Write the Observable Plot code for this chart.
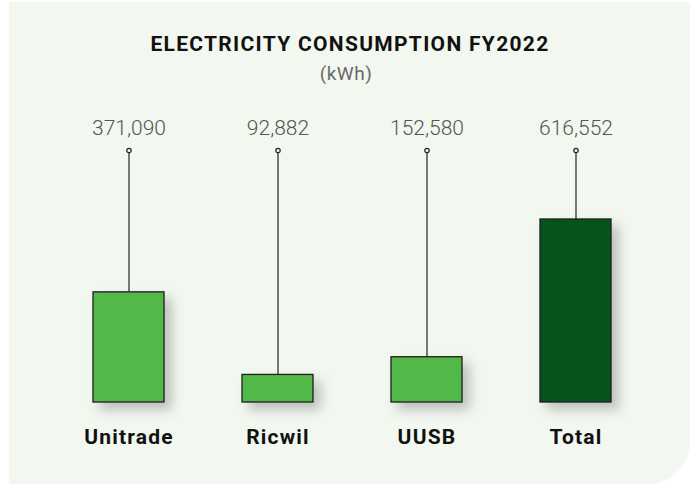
<!DOCTYPE html>
<html>
<head>
<meta charset="utf-8">
<script src="https://cdn.jsdelivr.net/npm/d3@7"></script>
<script src="https://cdn.jsdelivr.net/npm/@observablehq/plot@0.6"></script>
<style>
  html, body { margin: 0; padding: 0; background: #ffffff; }
  body { width: 692px; height: 484px; position: relative; overflow: hidden; font-family: Roboto, "Noto Sans", sans-serif; }
  #panel { position: absolute; left: 9px; top: 2px; width: 681px; height: 482px; background: #f2f7f0; border-bottom-right-radius: 42px; }
  #title { position: absolute; left: 0; width: 700px; top: 32px; text-align: center; font-weight: 700; font-size: 21px; color: #111; letter-spacing: 1.3px; }
  #subtitle { position: absolute; left: 0; width: 692px; top: 62px; text-align: center; font-weight: 400; font-size: 19px; color: #6a6a6a; letter-spacing: 0.5px; }
  #chart { position: absolute; left: 0; top: 95px; }
</style>
</head>
<body>
<div id="panel"></div>
<div id="title">ELECTRICITY CONSUMPTION FY2022</div>
<div id="subtitle">(kWh)</div>
<div id="chart"></div>
<script>
// ---- data ----
const categories = ["Unitrade", "Ricwil", "UUSB", "Total"];
const values = [371090, 92882, 152580, 616552];
const kinds = ["site", "site", "site", "total"];

// ---- config ----
const kindColors = ["#52b848", "#06531e"];
const leaderTop = 849000; // value-scale top where the leader lines end

const data = categories.map((c, i) => ({cat: c, value: values[i], kind: kinds[i]}));
const fmt = d3.format(",");

const chart = Plot.plot({
  width: 692,
  height: 389,
  marginTop: 55,
  marginBottom: 82,
  marginLeft: 48,
  marginRight: 36,
  style: {background: "transparent", fontFamily: "Roboto, 'Noto Sans', sans-serif", overflow: "visible"},
  x: {domain: categories, paddingInner: 0.523, paddingOuter: 0.3, axis: null},
  y: {domain: [0, leaderTop], axis: null},
  color: {domain: ["site", "total"], range: kindColors},
  marks: [
    Plot.barY(data, {x: "cat", y: "value", fill: "kind", stroke: "#1e1e1e", strokeWidth: 1.3}),
    Plot.ruleX(data, {x: "cat", y1: "value", y2: leaderTop, stroke: "#222", strokeWidth: 1.2}),
    Plot.dot(data, {x: "cat", y: () => leaderTop, r: 2.2, fill: "white", stroke: "#222", strokeWidth: 1.2}),
    Plot.text(data, {x: "cat", y: () => leaderTop, dy: -22, text: d => fmt(d.value), fontSize: 21, fontWeight: 300, fill: "#555"}),
    Plot.text(data, {x: "cat", y: () => 0, dy: 35, text: "cat", fontSize: 21, fontWeight: 700, fill: "#111"})
  ]
});
document.getElementById("chart").appendChild(chart);
d3.select(chart).selectAll('g[aria-label="bar"] rect')
  .style("filter", "drop-shadow(7px 7px 6px rgba(0,0,0,0.22))");
d3.select(chart).selectAll('g[aria-label="text"]').filter((d, i) => i === 1)
  .style("letter-spacing", "1.2px");
</script>
</body>
</html>
